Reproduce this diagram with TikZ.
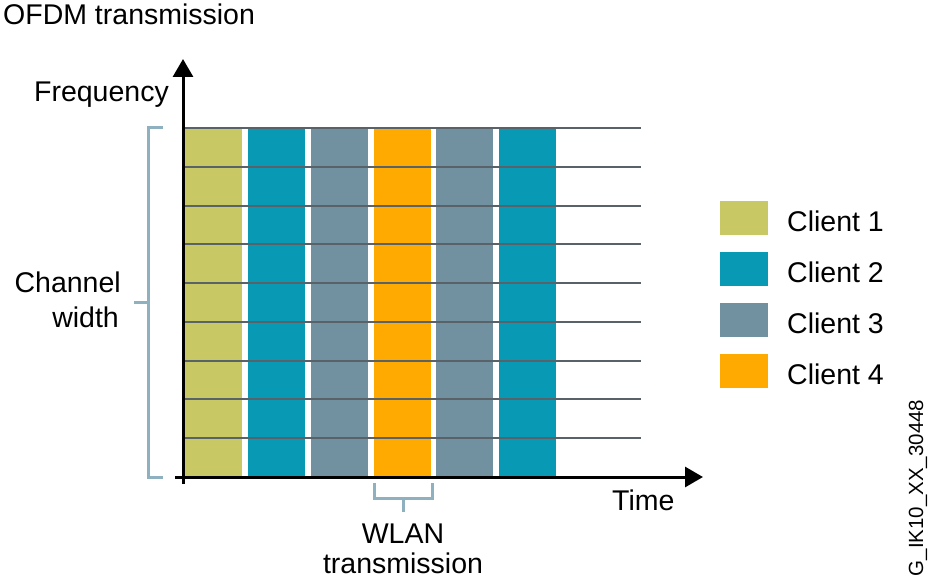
\documentclass[tikz,border=0pt]{standalone}
\usepackage{fontspec}
\setmainfont{Liberation Sans}
\usetikzlibrary{arrows.meta}
\definecolor{cOne}{RGB}{200,201,100}
\definecolor{cTwo}{RGB}{8,154,180}
\definecolor{cThree}{RGB}{113,145,160}
\definecolor{cFour}{RGB}{255,170,0}
\definecolor{brk}{RGB}{143,176,190}
\definecolor{grid}{RGB}{88,98,104}
\tikzset{
  lbl/.style={inner sep=0pt, font=\fontsize{28.5}{34}\selectfont},
  small/.style={inner sep=0pt, font=\fontsize{20.5}{24}\selectfont},
  bar/.style={draw=none, inner sep=0pt, minimum width=57pt, minimum height=349pt, anchor=north west},
  legbox/.style={draw=none, inner sep=0pt, minimum width=48pt, minimum height=34pt, anchor=north west},
  gridline/.style={draw=grid, line width=2pt},
  axis/.style={draw=black, line width=3pt, -{Triangle[length=18pt,width=20pt]}},
  bracket/.style={draw=brk, line width=3pt}
}
\begin{document}
\begin{tikzpicture}[x=1pt,y=-1pt]
\useasboundingbox (0,0) rectangle (931,588);
% bars
\node[bar, fill=cOne]   (b1) at (185,128) {};
\node[bar, fill=cTwo]   (b2) at (248,128) {};
\node[bar, fill=cThree] (b3) at (311,128) {};
\node[bar, fill=cFour]  (b4) at (374,128) {};
\node[bar, fill=cThree] (b5) at (436,128) {};
\node[bar, fill=cTwo]   (b6) at (499,128) {};
% grid lines
\foreach \k in {0,...,8}{
  \coordinate (gl\k) at (185,{128+\k*38.75});
  \coordinate (gr\k) at (641,{128+\k*38.75});
  \draw[gridline] (gl\k) -- (gr\k);
}
% axes
\coordinate (yo) at (183,484);
\coordinate (yt) at (183,59);
\coordinate (xo) at (175,477);
\coordinate (xt) at (703,477);
\draw[axis] (yo) -- (yt);
\draw[axis] (xo) -- (xt);
% left bracket
\coordinate (lb1) at (163,128);
\coordinate (lb2) at (148,128);
\coordinate (lb3) at (148,477);
\coordinate (lb4) at (163,477);
\coordinate (lbm) at (148,302.5);
\coordinate (lbt) at (134,302.5);
\draw[bracket] (lb1) -- (lb2) -- (lb3) -- (lb4);
\draw[bracket] (lbm) -- (lbt);
% bottom bracket
\coordinate (bb1) at (374,483);
\coordinate (bb2) at (374,498);
\coordinate (bb3) at (432,498);
\coordinate (bb4) at (432,483);
\coordinate (bbm) at (403,498);
\coordinate (bbt) at (403,512);
\draw[bracket] (bb1) -- (bb2) -- (bb3) -- (bb4);
\draw[bracket] (bbm) -- (bbt);
% texts
\node[lbl, anchor=base west] (title) at (3,25) {OFDM transmission};
\node[lbl, anchor=base east] (freq) at (169,102) {Frequency};
\node[lbl, anchor=base east] (chan1) at (121,292) {Channel};
\node[lbl, anchor=base east] (chan2) at (119,327) {width};
\node[lbl, anchor=base west] (time) at (612,510) {Time};
\node[lbl, anchor=base] (wlan1) at (403,543) {WLAN};
\node[lbl, anchor=base] (wlan2) at (403,573) {transmission};
% legend
\node[legbox, fill=cOne]   (l1) at (720,201) {};
\node[legbox, fill=cTwo]   (l2) at (720,252) {};
\node[legbox, fill=cThree] (l3) at (720,303) {};
\node[legbox, fill=cFour]  (l4) at (720,354) {};
\node[lbl, anchor=base west] (t1) at (787,231) {Client 1};
\node[lbl, anchor=base west] (t2) at (787,282) {Client 2};
\node[lbl, anchor=base west] (t3) at (787,333) {Client 3};
\node[lbl, anchor=base west] (t4) at (787,384) {Client 4};
% id
\node[small, rotate=90, anchor=base] (id) at (923,488) {G\_IK10\_XX\_30448};
\end{tikzpicture}
\end{document}
